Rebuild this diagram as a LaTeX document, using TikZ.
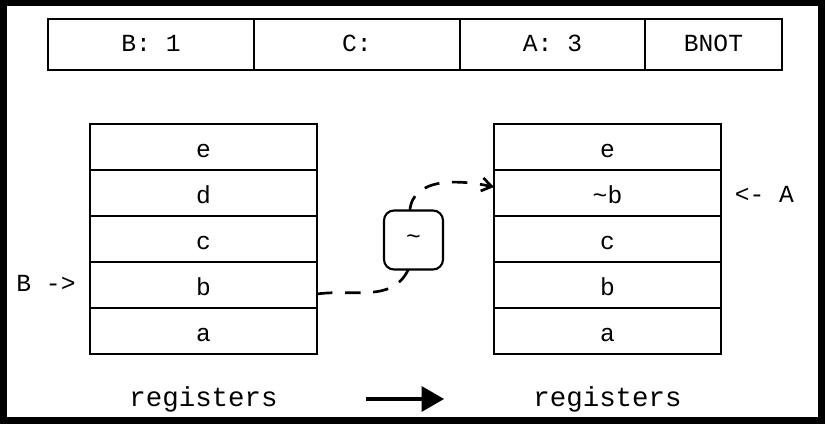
\documentclass[tikz,border=0pt]{standalone}
\usepackage{fontspec}
\setmainfont{Liberation Mono}
\usetikzlibrary{arrows,arrows.meta}

\begin{document}
\begin{tikzpicture}

\tikzstyle{cell} = [draw, line width=1.5pt, draw=black, inner sep=0, outer sep=0,
minimum height=1.275cm, text height=0.35cm, text depth=0pt, font=\fontsize{17.5}{20}\selectfont]
\tikzstyle{reg_row} = [draw, line width=1.5pt, draw=black, inner sep=0, outer sep=0,
minimum width=5.675cm, minimum height=1.15cm, text height=0.55cm, text depth=0pt, font=\fontsize{17.5}{20}\selectfont]
\tikzstyle{op-box} = [draw, line width=1.5pt, draw=black, fill=white, rounded corners=0.25cm,
inner sep=0, outer sep=0, minimum size=1.475cm, font=\fontsize{17.5}{20}\selectfont]
\tikzstyle{side_label} = [anchor=base, inner sep=0, font=\fontsize{17.5}{20}\selectfont]
\tikzstyle{caption} = [anchor=base, inner sep=0, font=\fontsize{19.5}{22}\selectfont]
\tikzstyle{flow} = [dashed, dash pattern=on 11pt off 9pt, line width=1.9pt]

% frame
\fill[black] (0,0) rectangle (20.625,10.6);
\fill[white] (0.175,0.175) rectangle (20.45,10.45);
\useasboundingbox (0,0) rectangle (20.625,10.6);

% instruction bar
\node [cell, minimum width=5.15cm] (bar-b) at (3.775,9.4875) {B: 1};
\node [cell, minimum width=5.15cm] (bar-c) at (8.925,9.4875) {C:};
\node [cell, minimum width=4.625cm] (bar-a) at (13.8125,9.4875) {A: 3};
\node [cell, minimum width=3.425cm] (bar-op) at (17.8375,9.4875) {BNOT};

% registers before
\node [reg_row] (left-e) at (5.0875,6.925) {e};
\node [reg_row] (left-d) at (5.0875,5.775) {d};
\node [reg_row] (left-c) at (5.0875,4.625) {c};
\node [reg_row] (left-b) at (5.0875,3.475) {b};
\node [reg_row] (left-a) at (5.0875,2.325) {a};

% registers after
\node [reg_row] (right-e) at (15.1875,6.925) {e};
\node [reg_row] (right-nb) at (15.1875,5.775) {\textasciitilde b};
\node [reg_row] (right-c) at (15.1875,4.625) {c};
\node [reg_row] (right-b) at (15.1875,3.475) {b};
\node [reg_row] (right-a) at (15.1875,2.325) {a};

\node [side_label] (ptr-b) at (1.15,3.3) {B ->};
\node [side_label] (ptr-a) at (19.11,5.525) {<- A};

\node [caption] (cap-left) at (5.0875,0.425) {registers};
\node [caption] (cap-right) at (15.1875,0.425) {registers};

% operation
\node [op-box] (op) at (10.3375,4.6) {\textasciitilde};
\draw[flow] ([yshift=-0.225cm]left-b.east) to[out=8,in=-115] (op.-100);
\draw[flow,-{Straight Barb[length=7pt,width=9.5pt]}] (op.97) to[out=85,in=168] ([yshift=0.15cm]right-nb.west);

\coordinate (step-from) at (9.15,0.625);
\coordinate (step-to) at (11.1,0.625);
\draw[-triangle 60, line width=3.5pt] (step-from) -- (step-to);

\end{tikzpicture}
\end{document}
